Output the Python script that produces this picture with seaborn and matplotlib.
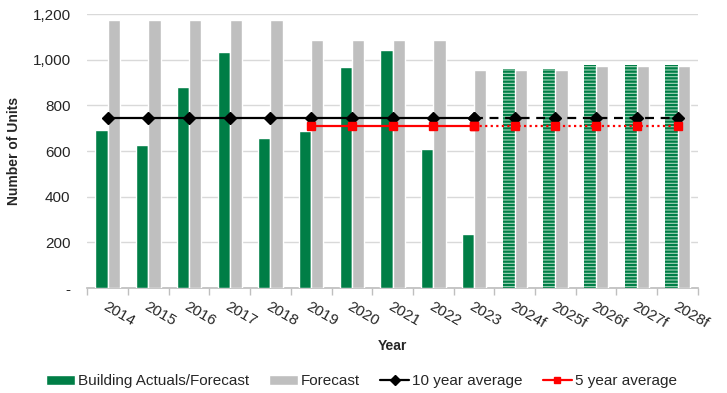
import numpy as np
import pandas as pd
import matplotlib
matplotlib.use("Agg")
import matplotlib.pyplot as plt
import seaborn as sns
from matplotlib.ticker import FuncFormatter, FixedLocator
from matplotlib.lines import Line2D
from matplotlib.patches import Patch

years = ["2014", "2015", "2016", "2017", "2018", "2019", "2020", "2021", "2022", "2023",
         "2024f", "2025f", "2026f", "2027f", "2028f"]
building = [692, 628, 880, 1036, 657, 688, 968, 1045, 610, 236, 958, 958, 977, 977, 977]
forecast = [1175, 1175, 1175, 1175, 1175, 1085, 1085, 1085, 1085, 957, 957, 957, 975, 975, 975]
avg10 = [745] * 15
avg5 = [None] * 5 + [710] * 10
n_actual = 10

sns.set_theme(style="white")
plt.rcParams['font.family'] = ['Liberation Sans', 'DejaVu Sans']
plt.rcParams['hatch.linewidth'] = 1.6

GREEN = "#007e46"
GRAY = "#bfbfbf"

df = pd.DataFrame({
    "Year": years * 2,
    "Units": building + forecast,
    "Series": ["Building Actuals/Forecast"] * 15 + ["Forecast"] * 15,
})

fig = plt.figure(figsize=(7.27, 3.93), dpi=100)
ax = fig.add_axes([0.12, 0.267, 0.84, 0.697])

sns.barplot(data=df, x="Year", y="Units", hue="Series", palette=[GREEN, GRAY],
            width=0.6, gap=0, saturation=1, ax=ax, legend=False, zorder=2)

for i, bar in enumerate(ax.containers[0]):
    if i >= n_actual:
        bar.set_facecolor("#a6d6bb")
        bar.set_hatch("-----")
        bar.set_edgecolor(GREEN)
        bar.set_linewidth(0)

x = np.arange(len(years))
a10 = np.array(avg10, dtype=float)
a5 = np.array([np.nan if v is None else v for v in avg5], dtype=float)

ax.plot(x[:n_actual], a10[:n_actual], color="black", lw=1.6, marker="D", ms=6, zorder=4)
ax.plot(x[n_actual - 1:], a10[n_actual - 1:], color="black", lw=1.6, ls=(0, (4, 3)), marker="D", ms=6, zorder=4)
ax.plot(x[:n_actual], a5[:n_actual], color="#ff0000", lw=1.6, marker="s", ms=6, zorder=4)
ax.plot(x[n_actual - 1:], a5[n_actual - 1:], color="#ff0000", lw=1.6, ls=(0, (1, 1.5)), marker="s", ms=6, zorder=4)

ax.set_ylim(0, 1200)
ax.set_xlim(-0.5, len(years) - 0.5)
ax.set_yticks(range(0, 1201, 200))
ax.yaxis.set_major_formatter(FuncFormatter(lambda v, p: "-" if v == 0 else f"{int(v):,}"))
ax.grid(axis="y", color="#d9d9d9", lw=1, zorder=0)
ax.set_axisbelow(True)
for s in ["top", "right", "left"]:
    ax.spines[s].set_visible(False)
ax.spines["bottom"].set_color("#bfbfbf")
ax.spines["bottom"].set_zorder(1)

ax.set_xticks(x)
ax.set_xticklabels(years, rotation=-30, ha="left", rotation_mode="anchor", fontsize=11)
ax.tick_params(axis="x", which="major", length=0, pad=8)
ax.xaxis.set_minor_locator(FixedLocator(np.arange(-0.5, len(years), 1.0)))
ax.tick_params(axis="x", which="minor", length=5, color="#bfbfbf", bottom=True)
ax.tick_params(axis="y", length=0, labelsize=11, pad=12)

ax.set_xlabel("Year", fontsize=10, fontweight="bold", labelpad=6)
ax.set_ylabel("Number of Units", fontsize=10, fontweight="bold", labelpad=8)

handles = [
    Patch(facecolor=GREEN, label="Building Actuals/Forecast"),
    Patch(facecolor=GRAY, label="Forecast"),
    Line2D([0], [0], color="black", lw=1.6, marker="D", ms=5, label="10 year average"),
    Line2D([0], [0], color="#ff0000", lw=1.6, marker="s", ms=5, label="5 year average"),
]
fig.legend(handles=handles, loc="center", bbox_to_anchor=(0.497, 0.03), ncol=4, frameon=False,
           fontsize=11, handlelength=1.9, handleheight=0.6, columnspacing=1.3, handletextpad=0.2)

fig.savefig("out.png", dpi=100)
